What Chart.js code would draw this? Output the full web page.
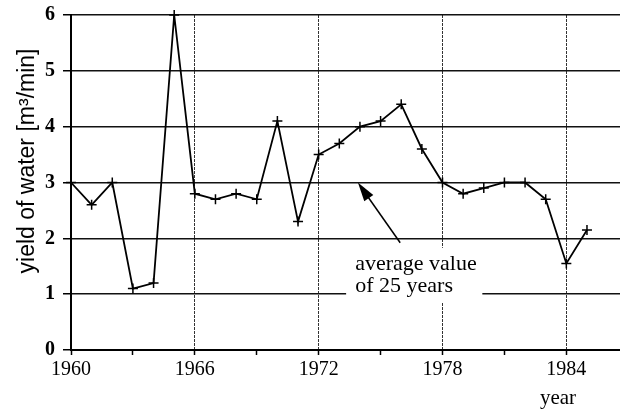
<!DOCTYPE html>
<html>
<head>
<meta charset="utf-8">
<script src="https://cdn.jsdelivr.net/npm/chart.js@4.4.0/dist/chart.umd.min.js"></script>
<style>
  html, body { margin: 0; padding: 0; background: #fff; }
  canvas { display: block; }
</style>
</head>
<body>
<canvas id="yieldChart" width="620" height="411"></canvas>
<script>
// years and measured yield of water [m3/min]
const years = [1960, 1961, 1962, 1963, 1964, 1965, 1966, 1967, 1968, 1969, 1970, 1971, 1972,
               1973, 1974, 1975, 1976, 1977, 1978, 1979, 1980, 1981, 1982, 1983, 1984, 1985];
const yieldValues = [3.0, 2.6, 3.0, 1.1, 1.2, 6.0, 2.8, 2.7, 2.8, 2.7, 4.1, 2.3, 3.5,
                     3.7, 4.0, 4.1, 4.4, 3.6, 3.0, 2.8, 2.9, 3.0, 3.0, 2.7, 1.55, 2.15];

// axis ticks
const yearTicks = [1960, 1963, 1966, 1969, 1972, 1975, 1978, 1981, 1984];
const labelledYears = [1960, 1966, 1972, 1978, 1984];
const valueTicks = [0, 1, 2, 3, 4, 5, 6];

const yTitle = 'yield of water [m³/min]';
const xTitle = 'year';
const noteLines = ['average value', 'of 25 years'];

// Zusatztexte, Pfeil und Achsentitel
const extrasPlugin = {
    id: 'extras',
    beforeDatasetsDraw(chart) {
        const { ctx, scales: { x, y } } = chart;
        // weisser Kasten hinter der Notiz
        const left = x.getPixelForValue(1973.33), right = x.getPixelForValue(1979.93);
        const top = y.getPixelForValue(1.83), bottom = y.getPixelForValue(0.86);
        ctx.save();
        ctx.fillStyle = '#fff';
        ctx.fillRect(left, top, right - left, bottom - top);
        ctx.restore();
    },
    afterDatasetsDraw(chart) {
        const { ctx, scales: { x, y }, chartArea } = chart;
        ctx.save();
        ctx.fillStyle = '#000';
        ctx.strokeStyle = '#000';

        // Notiz
        ctx.font = '22px "Liberation Serif", "Times New Roman", serif';
        ctx.textAlign = 'left';
        ctx.textBaseline = 'alphabetic';
        const tx = x.getPixelForValue(1973.77);
        ctx.fillText(noteLines[0], tx, y.getPixelForValue(1.43));
        ctx.fillText(noteLines[1], tx, y.getPixelForValue(1.04));

        // Pfeil
        const x1 = x.getPixelForValue(1975.95), y1 = y.getPixelForValue(1.92);
        const x2 = x.getPixelForValue(1973.9), y2 = y.getPixelForValue(3);
        const ang = Math.atan2(y2 - y1, x2 - x1);
        ctx.lineWidth = 1.5;
        ctx.beginPath();
        ctx.moveTo(x1, y1);
        ctx.lineTo(x2 - 14 * Math.cos(ang), y2 - 14 * Math.sin(ang));
        ctx.stroke();
        ctx.beginPath();
        ctx.moveTo(x2, y2);
        ctx.lineTo(x2 - 19 * Math.cos(ang) + 5.5 * Math.sin(ang), y2 - 19 * Math.sin(ang) - 5.5 * Math.cos(ang));
        ctx.lineTo(x2 - 19 * Math.cos(ang) - 5.5 * Math.sin(ang), y2 - 19 * Math.sin(ang) + 5.5 * Math.cos(ang));
        ctx.closePath();
        ctx.fill();

        // Achsentitel
        ctx.font = '23px "Liberation Sans", Arial, sans-serif';
        ctx.textAlign = 'center';
        ctx.textBaseline = 'middle';
        ctx.save();
        ctx.translate(chartArea.left - 43, 161);
        ctx.rotate(-Math.PI / 2);
        ctx.fillText(yTitle, 0, 0);
        ctx.restore();

        ctx.font = '21px "Liberation Serif", "Times New Roman", serif';
        ctx.textBaseline = 'alphabetic';
        ctx.fillText(xTitle, 558, 404);
        ctx.restore();
    }
};

new Chart(document.getElementById('yieldChart'), {
    type: 'line',
    data: {
        datasets: [{
            data: years.map((yr, i) => ({ x: yr, y: yieldValues[i] })),
            borderColor: '#000',
            borderWidth: 1.8,
            pointStyle: 'cross',
            pointRadius: 5,
            pointBorderWidth: 1.5,
            pointBorderColor: '#000',
            tension: 0,
            clip: false
        }]
    },
    options: {
        responsive: false,
        animation: false,
        devicePixelRatio: 1,
        layout: { autoPadding: false, padding: { top: 15, left: 0, right: 0, bottom: 0 } },
        plugins: {
            legend: { display: false },
            tooltip: { enabled: false }
        },
        scales: {
            x: {
                type: 'linear',
                min: 1960,
                max: 1986.6,
                afterBuildTicks: axis => { axis.ticks = yearTicks.map(v => ({ value: v })); },
                afterFit: scale => {
                    scale.height = 61;
                    scale.paddingLeft = 0;
                    scale.paddingRight = 0;
                },
                ticks: {
                    autoSkip: false,
                    maxRotation: 0,
                    padding: 3,
                    color: '#000',
                    font: { family: '"Liberation Serif", "Times New Roman", serif', size: 20 },
                    callback: v => labelledYears.includes(v) ? String(v) : ''
                },
                grid: {
                    color: c => (c.tick && c.tick.value !== 1960 && labelledYears.includes(c.tick.value)) ? '#333' : 'rgba(0,0,0,0)',
                    lineWidth: 1,
                    tickColor: '#000',
                    tickLength: 5,
                    tickWidth: 1.5
                },
                border: { display: true, color: '#000', width: 2, dash: [3, 1] }
            },
            y: {
                min: 0,
                max: 6,
                afterBuildTicks: axis => { axis.ticks = valueTicks.map(v => ({ value: v })); },
                afterFit: scale => {
                    scale.width = 71;
                    scale.paddingTop = 0;
                    scale.paddingBottom = 0;
                },
                ticks: {
                    padding: 8,
                    color: '#000',
                    font: { family: '"Liberation Serif", "Times New Roman", serif', size: 20, weight: 'bold' }
                },
                grid: {
                    color: c => (c.tick && c.tick.value === 0) ? 'rgba(0,0,0,0)' : '#111',
                    lineWidth: 1.5,
                    tickColor: '#000',
                    tickLength: 8,
                    tickWidth: 1.5
                },
                border: { display: true, color: '#000', width: 2 }
            }
        }
    },
    plugins: [extrasPlugin]
});
</script>
</body>
</html>
